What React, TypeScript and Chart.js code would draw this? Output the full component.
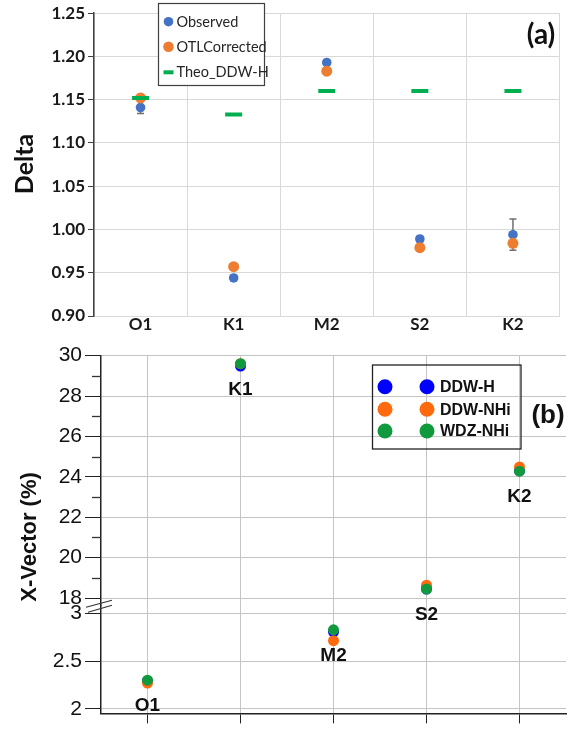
import React, { useEffect, useRef } from 'react';
import { Chart, registerables } from 'chart.js';

Chart.register(...registerables);

// ---------- shared ----------
const constituents = ['O1', 'K1', 'M2', 'S2', 'K2'];

// ---------- panel (a): Delta ----------
const seriesNamesA = ['Observed', 'OTLCorrected', 'Theo_DDW-H'];
const deltaObserved = [1.141, 0.944, 1.193, 0.989, 0.994];
const deltaObservedErr = [0.007, 0.003, 0.003, 0.003, 0.018];
const deltaOTL = [1.152, 0.957, 1.183, 0.979, 0.984];
const deltaTheo = [1.152, 1.133, 1.16, 1.16, 1.16];
const deltaTicks = [0.9, 0.95, 1.0, 1.05, 1.1, 1.15, 1.2, 1.25];

// ---------- panel (b): X-Vector (%) ----------
const seriesNamesB = ['DDW-H', 'DDW-NHi', 'WDZ-NHi'];
const xvecDDWH = [2.29, 29.48, 2.807, 18.45, 24.3];
const xvecDDWNHi = [2.27, 29.6, 2.714, 18.64, 24.49];
const xvecWDZNHi = [2.3, 29.6, 2.828, 18.45, 24.28];
const upperTicks = [18, 19, 20, 21, 22, 23, 24, 25, 26, 27, 28, 29, 30];
const lowerTicks = [2, 2.5, 3];
const breakAt = 10; // values above go on the upper segment

const colA = { obs: '#4472C4', otl: '#ED7D31', theo: '#00B050' };
const colB = ['#0000FF', '#FF6A0E', '#11993D'];

const topFont = 'Lato, "Open Sans", sans-serif';
const botFont = '"Liberation Sans", Arial, sans-serif';

const pluginA = {
  id: 'panelA',
  beforeDatasetsDraw(chart: any) {
    const ctx = chart.ctx;
    const xs = chart.scales.x;
    const ys = chart.scales.y;
    ctx.save();
    ctx.strokeStyle = '#6f6f6f';
    ctx.lineWidth = 1.5;
    deltaObserved.forEach((v, i) => {
      const e = deltaObservedErr[i];
      const x = xs.getPixelForValue(i);
      const y1 = ys.getPixelForValue(v + e);
      const y2 = ys.getPixelForValue(v - e);
      ctx.beginPath();
      ctx.moveTo(x, y1);
      ctx.lineTo(x, y2);
      ctx.moveTo(x - 3.5, y1);
      ctx.lineTo(x + 3.5, y1);
      ctx.moveTo(x - 3.5, y2);
      ctx.lineTo(x + 3.5, y2);
      ctx.stroke();
    });
    ctx.restore();
  },
  afterDraw(chart: any) {
    const ctx = chart.ctx;
    ctx.save();
    // legend
    const bx = 158, by = 3, bw = 106, bh = 82;
    ctx.fillStyle = '#ffffff';
    ctx.fillRect(bx, by, bw, bh);
    ctx.strokeStyle = '#404040';
    ctx.lineWidth = 1.2;
    ctx.strokeRect(bx + 0.5, by + 0.5, bw, bh);
    const rows = [21.7, 46.7, 72.3];
    const mx = 168.5;
    ctx.fillStyle = colA.obs;
    ctx.beginPath();
    ctx.arc(mx, rows[0], 4.8, 0, Math.PI * 2);
    ctx.fill();
    ctx.fillStyle = colA.otl;
    ctx.beginPath();
    ctx.arc(mx, rows[1], 5.3, 0, Math.PI * 2);
    ctx.fill();
    ctx.strokeStyle = colA.theo;
    ctx.lineWidth = 4;
    ctx.beginPath();
    ctx.moveTo(mx - 5, rows[2]);
    ctx.lineTo(mx + 5, rows[2]);
    ctx.stroke();
    ctx.fillStyle = '#262626';
    ctx.font = '14.5px ' + topFont;
    ctx.textBaseline = 'middle';
    ctx.textAlign = 'left';
    seriesNamesA.forEach((n, i) => ctx.fillText(n, 176.5, rows[i] + 0.5));
    // panel tag
    ctx.font = 'bold 28px ' + topFont;
    ctx.textAlign = 'center';
    ctx.fillStyle = '#111';
    ctx.fillText('(a)', 541, 35);
    // axis title
    ctx.translate(25, 164);
    ctx.rotate(-Math.PI / 2);
    ctx.font = 'bold 25px ' + topFont;
    ctx.fillText('Delta', 0, 0);
    ctx.restore();
  },
};

const pluginB = {
  id: 'panelB',
  afterDraw(chart: any) {
    const ctx = chart.ctx;
    const xs = chart.scales.x;
    const yh = chart.scales.yHigh;
    const yl = chart.scales.yLow;
    const ax = yh.right;
    ctx.save();
    // minor ticks on upper segment
    ctx.strokeStyle = '#333';
    ctx.lineWidth = 1.3;
    upperTicks.forEach((v) => {
      if (v % 2 !== 0) {
        const y = Math.round(yh.getPixelForValue(v)) + 0.5;
        ctx.beginPath();
        ctx.moveTo(ax - 9, y);
        ctx.lineTo(ax, y);
        ctx.stroke();
      }
    });
    // axis break marks
    const b = yh.bottom;
    ctx.lineWidth = 1.2;
    ctx.beginPath();
    ctx.moveTo(ax - 15, b + 1.5);
    ctx.lineTo(ax + 11, b - 5.5);
    ctx.moveTo(ax - 13, b + 6.5);
    ctx.lineTo(ax + 11, b - 0.5);
    ctx.stroke();
    // point labels
    ctx.fillStyle = '#111';
    ctx.font = 'bold 19px ' + botFont;
    ctx.textAlign = 'center';
    ctx.textBaseline = 'middle';
    constituents.forEach((c, i) => {
      const v = xvecWDZNHi[i];
      const sc = v > breakAt ? yh : yl;
      const x = xs.getPixelForValue(i);
      const y = sc.getPixelForValue(v) + 26;
      ctx.fillText(c, x, y);
    });
    // legend
    ctx.strokeStyle = '#222';
    ctx.lineWidth = 1.3;
    ctx.strokeRect(372.5, 25, 148.5, 84);
    const rows = [46.7, 69.3, 91];
    ctx.font = 'bold 16px ' + botFont;
    ctx.textAlign = 'left';
    seriesNamesB.forEach((n, i) => {
      ctx.fillStyle = colB[i];
      [385, 427].forEach((mx) => {
        ctx.beginPath();
        ctx.arc(mx, rows[i], 7.5, 0, Math.PI * 2);
        ctx.fill();
      });
      ctx.fillStyle = '#111';
      ctx.fillText(n, 440, rows[i] + 1);
    });
    // panel tag
    ctx.font = 'bold 26px ' + botFont;
    ctx.textAlign = 'center';
    ctx.fillText('(b)', 548, 76);
    // axis title
    ctx.translate(30, 197);
    ctx.rotate(-Math.PI / 2);
    ctx.font = 'bold 22px ' + botFont;
    ctx.fillText('X-Vector (%)', 0, 0);
    ctx.restore();
  },
};

function splitSeries(vals: number[], upper: boolean) {
  return vals.map((v) => ((v > breakAt) === upper ? v : null));
}

export default function App() {
  const topRef = useRef<HTMLCanvasElement>(null);
  const botRef = useRef<HTMLCanvasElement>(null);

  useEffect(() => {
    const chartA = new Chart(topRef.current as HTMLCanvasElement, {
      type: 'line',
      data: {
        labels: constituents,
        datasets: [
          {
            label: seriesNamesA[0],
            data: deltaObserved,
            showLine: false,
            pointRadius: 4.8,
            pointBackgroundColor: colA.obs,
            pointBorderColor: colA.obs,
            pointBorderWidth: 0,
            order: 2,
          },
          {
            label: seriesNamesA[1],
            data: deltaOTL,
            showLine: false,
            pointRadius: 5.5,
            pointBackgroundColor: colA.otl,
            pointBorderColor: colA.otl,
            pointBorderWidth: 0,
            order: 1,
          },
          {
            label: seriesNamesA[2],
            data: deltaTheo,
            showLine: false,
            pointStyle: 'line',
            pointRadius: 8.5,
            pointBorderWidth: 4,
            pointBorderColor: colA.theo,
            pointBackgroundColor: colA.theo,
            order: 0,
          },
        ],
      },
      options: {
        responsive: false,
        animation: false,
        events: [],
        layout: { padding: { top: 12, right: 8, left: 0, bottom: 0 } },
        plugins: { legend: { display: false }, tooltip: { enabled: false } },
        scales: {
          x: {
            type: 'category',
            offset: true,
            afterFit: (s: any) => {
              s.height = 24;
            },
            grid: { offset: true, color: '#d9d9d9', drawTicks: false },
            border: { color: '#d9d9d9' },
            ticks: {
              padding: -2,
              color: '#1a1a1a',
              font: { family: topFont, size: 17, weight: 'bold' },
            },
          },
          y: {
            type: 'linear',
            min: 0.9,
            max: 1.25,
            afterFit: (s: any) => {
              s.width = 94;
            },
            afterBuildTicks: (s: any) => {
              s.ticks = deltaTicks.map((v) => ({ value: v }));
            },
            grid: { color: '#d9d9d9', tickColor: '#404040', tickLength: 6 },
            border: { color: '#404040', width: 1.5 },
            ticks: {
              autoSkip: false,
              padding: 3,
              color: '#1a1a1a',
              font: { family: topFont, size: 17, weight: 'bold' },
              callback: (v: any) => Number(v).toFixed(2),
            },
          },
        },
      },
      plugins: [pluginA],
    } as any);

    const mk = (vals: number[], i: number, upper: boolean) => ({
      label: seriesNamesB[i] + (upper ? ' hi' : ' lo'),
      data: splitSeries(vals, upper),
      yAxisID: upper ? 'yHigh' : 'yLow',
      showLine: false,
      pointRadius: 5.5,
      pointBackgroundColor: colB[i],
      pointBorderColor: colB[i],
      pointBorderWidth: 0,
      order: 2 - i,
    });

    const chartB = new Chart(botRef.current as HTMLCanvasElement, {
      type: 'line',
      data: {
        labels: constituents,
        datasets: [
          mk(xvecDDWH, 0, true),
          mk(xvecDDWH, 0, false),
          mk(xvecDDWNHi, 1, true),
          mk(xvecDDWNHi, 1, false),
          mk(xvecWDZNHi, 2, true),
          mk(xvecWDZNHi, 2, false),
        ],
      },
      options: {
        responsive: false,
        animation: false,
        events: [],
        layout: { padding: { top: 15, right: 6, left: 0, bottom: 0 } },
        plugins: { legend: { display: false }, tooltip: { enabled: false } },
        scales: {
          x: {
            type: 'category',
            offset: true,
            afterFit: (s: any) => {
              s.height = 10;
            },
            grid: { offset: false, color: '#c4c4c4', tickColor: '#222', tickLength: 10 },
            border: { color: '#222', width: 1.5 },
            ticks: { display: false },
          },
          yLow: {
            type: 'linear',
            position: 'left',
            stack: 'xv',
            stackWeight: 109.5,
            min: 1.952,
            max: 3.08,
            afterFit: (s: any) => {
              s.width = 101;
            },
            afterBuildTicks: (s: any) => {
              s.ticks = lowerTicks.map((v) => ({ value: v }));
            },
            grid: { color: '#c4c4c4', tickColor: '#222', tickLength: 16 },
            border: { color: '#222', width: 1.5 },
            ticks: {
              autoSkip: false,
              padding: 3,
              color: '#111',
              font: { family: botFont, size: 21 },
              callback: (v: any) => String(v),
            },
          },
          yHigh: {
            type: 'linear',
            position: 'left',
            stack: 'xv',
            stackWeight: 254.5,
            min: 17.62,
            max: 30,
            afterFit: (s: any) => {
              s.width = 101;
            },
            afterBuildTicks: (s: any) => {
              s.ticks = upperTicks.map((v) => ({ value: v }));
            },
            grid: {
              color: (c: any) => (c.tick && c.tick.value % 2 === 0 ? '#c4c4c4' : 'rgba(0,0,0,0)'),
              tickColor: (c: any) => (c.tick && c.tick.value % 2 === 0 ? '#222' : 'rgba(0,0,0,0)'),
              tickLength: 16,
            },
            border: { color: '#222', width: 1.5 },
            ticks: {
              autoSkip: false,
              padding: 3,
              color: '#111',
              font: { family: botFont, size: 21 },
              callback: (v: any) => (Number(v) % 2 === 0 ? String(v) : ''),
            },
          },
        },
      },
      plugins: [pluginB],
    } as any);

    return () => {
      chartA.destroy();
      chartB.destroy();
    };
  }, []);

  return (
    <div style={{ position: 'absolute', left: 0, top: 0, width: 572, height: 729, background: '#fff' }}>
      <canvas ref={topRef} width={572} height={340} style={{ display: 'block' }} />
      <canvas ref={botRef} width={572} height={389} style={{ display: 'block' }} />
    </div>
  );
}
